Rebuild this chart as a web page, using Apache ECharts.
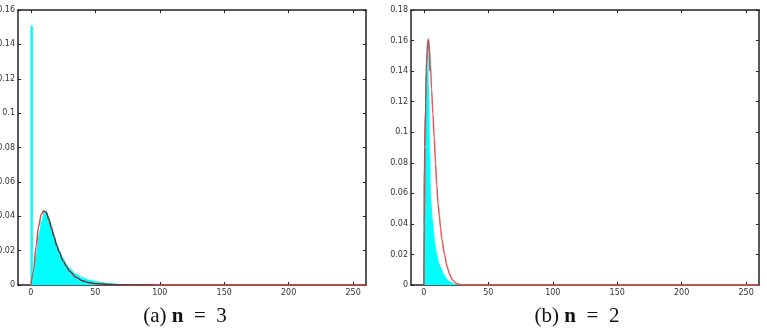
<!DOCTYPE html>
<html>
<head>
<meta charset="utf-8">
<script src="https://cdn.jsdelivr.net/npm/echarts@6/dist/echarts.min.js"></script>
<style>
  html, body { margin: 0; padding: 0; background: #fff; }
  #chart { width: 767px; height: 328px; }
</style>
</head>
<body>
<div id="chart"></div>
<script>
// tick labels
const xTicks = [0, 50, 100, 150, 200, 250]
const captions = ['(a)', '(b)']
const nValues = [3, 2]

// (a) n = 3 : histogram spike at zero, histogram body, fitted curve (red), second curve (dark)
const spikeA = [[0.6, 0.151]]
const histA = [[0, 0], [0.5, 0.001], [1, 0.003], [2, 0.008], [4, 0.018], [6, 0.029], [8, 0.037], [10, 0.042],
  [12, 0.0437], [14, 0.040], [16, 0.035], [18, 0.030], [20, 0.025], [22, 0.021], [25, 0.016],
  [28, 0.012], [30, 0.010], [35, 0.0065], [40, 0.0045], [45, 0.0032], [50, 0.0024], [55, 0.0018],
  [60, 0.0013], [65, 0.0009], [70, 0.0005], [75, 0.0002], [80, 0]]
const redA = [[0, 0], [2, 0.008], [4, 0.022], [6, 0.034], [8, 0.041], [10, 0.043], [12, 0.042],
  [14, 0.038], [16, 0.033], [18, 0.028], [20, 0.023], [22, 0.019], [25, 0.014], [28, 0.0105],
  [30, 0.008], [35, 0.0045], [40, 0.0025], [45, 0.0014], [50, 0.0008], [60, 0.0003], [70, 0.0001],
  [80, 0], [260, 0]]
const darkA = [[9, 0.0425], [10, 0.043], [12, 0.042], [14, 0.038], [16, 0.033], [18, 0.028], [20, 0.023],
  [22, 0.019], [25, 0.014], [28, 0.0105], [30, 0.008], [35, 0.0045], [40, 0.0025], [45, 0.0014],
  [50, 0.0008], [60, 0.0003], [70, 0.0001], [80, 0], [95, 0]]

// (b) n = 2
const histB = [[0, 0], [0.1, 0.03], [1, 0.08], [2, 0.125], [3, 0.148], [3.5, 0.151], [4, 0.13],
  [5, 0.085], [5.5, 0.06], [6, 0.052], [7, 0.042], [8, 0.033], [9, 0.026], [10, 0.021], [12, 0.014],
  [14, 0.01], [16, 0.0065], [18, 0.004], [20, 0.0025], [24, 0.001], [28, 0]]
const redB = [[0, 0], [0.5, 0.04], [1, 0.09], [1.5, 0.12], [2, 0.14], [2.5, 0.153], [3, 0.159],
  [3.5, 0.161], [4, 0.158], [5, 0.145], [6, 0.128], [7, 0.112], [8, 0.097], [9, 0.08], [10, 0.065],
  [11, 0.053], [12, 0.045], [13, 0.037], [14, 0.030], [16, 0.02], [18, 0.012], [20, 0.007],
  [22, 0.0035], [25, 0.0012], [28, 0.0003], [32, 0], [260, 0]]
const darkB = [[0, 0], [0.1, 0.07], [1, 0.11], [2, 0.145], [3, 0.158], [3.5, 0.16], [4.5, 0.14]]

const yMax = [0.16, 0.18]
const gridLeft = [18, 411]

const chart = echarts.init(document.getElementById('chart'))

const axisLine = { show: true, onZero: false, lineStyle: { color: '#222', width: 1.5 } }
const tick = { show: true, inside: true, length: 3, lineStyle: { color: '#222', width: 1 } }
const labelStyle = { color: '#333', fontSize: 8, fontFamily: 'DejaVu Sans' }

const grids = []
const xAxes = []
const yAxes = []
gridLeft.forEach((left, i) => {
  grids.push({ left: left, top: 10, width: 348, height: 275, outerBoundsMode: 'none', containLabel: false })
  // bottom and top x axes
  xAxes.push({
    type: 'value', gridIndex: i, min: -10, max: 260, position: 'bottom',
    axisLine: axisLine, splitLine: { show: false },
    axisTick: Object.assign({ customValues: xTicks }, tick),
    axisLabel: Object.assign({ customValues: xTicks, margin: 4 }, labelStyle)
  })
  xAxes.push({
    type: 'value', gridIndex: i, min: -10, max: 260, position: 'top',
    axisLine: axisLine, splitLine: { show: false },
    axisTick: Object.assign({ customValues: xTicks }, tick),
    axisLabel: { show: false }
  })
  // left and right y axes
  yAxes.push({
    type: 'value', gridIndex: i, min: 0, max: yMax[i], interval: 0.02, position: 'left',
    axisLine: axisLine, splitLine: { show: false }, axisTick: tick,
    axisLabel: Object.assign({ margin: 3 }, labelStyle)
  })
  yAxes.push({
    type: 'value', gridIndex: i, min: 0, max: yMax[i], interval: 0.02, position: 'right',
    axisLine: axisLine, splitLine: { show: false }, axisTick: tick,
    axisLabel: { show: false }
  })
})

const area = (data, xi, yi) => ({
  type: 'line', xAxisIndex: xi, yAxisIndex: yi, data: data, showSymbol: false,
  smooth: 0.3, smoothMonotone: 'x', silent: true,
  lineStyle: { width: 0 }, areaStyle: { color: '#00ffff', opacity: 1 }
})
const curve = (data, xi, yi, color, width) => ({
  type: 'line', xAxisIndex: xi, yAxisIndex: yi, data: data, showSymbol: false,
  smooth: 0.3, smoothMonotone: 'x', silent: true,
  lineStyle: { color: color, width: width }
})

const series = [
  {
    type: 'bar', xAxisIndex: 0, yAxisIndex: 0, data: spikeA, barWidth: 2.5, silent: true,
    itemStyle: { color: '#00ffff' }
  },
  area(histA, 0, 0),
  curve(redA, 0, 0, '#e0454a', 1.5),
  curve(darkA, 0, 0, '#333', 1),
  area(histB, 2, 2),
  curve(redB, 2, 2, '#e85a5a', 1.5),
  curve(darkB, 2, 2, '#666', 1)
]

const titles = captions.map((c, i) => ({
  text: '{a|' + c + ' }{b|n}{a|  =  ' + nValues[i] + '}',
  left: [180, 572][i],
  top: 301,
  textAlign: 'center',
  textStyle: {
    fontWeight: 'normal',
    rich: {
      a: { fontFamily: 'Liberation Serif', fontSize: 21, fontWeight: 'normal', color: '#111' },
      b: { fontFamily: 'Liberation Serif', fontSize: 21, fontWeight: 'bold', color: '#111' }
    }
  }
}))

chart.setOption({
  animation: false,
  title: titles,
  grid: grids,
  xAxis: xAxes,
  yAxis: yAxes,
  series: series
})
</script>
</body>
</html>
